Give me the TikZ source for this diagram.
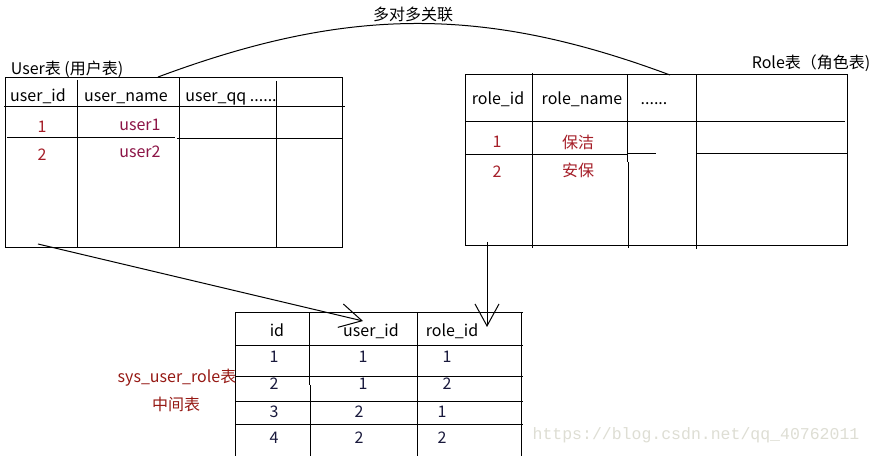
\documentclass[tikz,border=0pt]{standalone}
\usepackage{fontspec}
\setmainfont{Noto Sans CJK SC}
\newfontfamily\urlfont{Liberation Mono}
\usepackage{xcolor}
\usetikzlibrary{arrows.meta}
\definecolor{rowred}{RGB}{165,30,40}
\definecolor{namered}{RGB}{140,20,70}
\definecolor{labelred}{RGB}{150,25,20}
\definecolor{cellink}{RGB}{25,25,60}
\definecolor{markgray}{RGB}{222,222,212}

\begin{document}
\begin{tikzpicture}[x = 1pt, y = -1pt, line width = 1pt,
		cell/.style = {font = \fontsize{16}{18}\selectfont, inner sep = 0pt, text height = 1.05em, text depth = 0.1em},
		barb/.style = {-{Straight Barb[length = 22pt, width = 24pt]}}]
	\def\userTop{78};
	\def\userBottom{248};
	\def\roleTop{75};
	\def\roleBottom{246};
	\def\linkTop{313};
	\def\linkBottom{456};

	\fill [white] (0,0) rectangle (873,456);

	\begin{scope}
		\draw (5,\userTop) rectangle (342,\userBottom);
		\draw (4,107) -- (345,107);
		\draw (7,138) -- (175,138);
		\draw (177,139) -- (342,139);
		\draw (77,80) -- (77,\userBottom);
		\draw (179,\userTop) -- (179,\userBottom);
		\draw (276,81) -- (276,\userBottom);
		\node [cell] (usertitle) at (67,70) {User表 (用户表)};
		\node [cell] (uid) at (38,97) {user\_id};
		\node [cell] (uname) at (126,97) {user\_name};
		\node [cell] (uqq) at (231,97) {user\_qq ......};
		\node [cell, rowred] (u1id) at (42,128) {1};
		\node [cell, namered] (u1name) at (140,126) {user1};
		\node [cell, rowred] (u2id) at (42,156) {2};
		\node [cell, namered] (u2name) at (140,153) {user2};
	\end{scope}

	\begin{scope}
		\draw (465,\roleTop) rectangle (847,\roleBottom);
		\draw (465,122) -- (845,122);
		\draw (465,155) -- (627,155);
		\draw (627,154) -- (656,154);
		\draw (696,154) -- (847,154);
		\draw (532,73) -- (532,248);
		\draw (627,\roleTop) -- (627,162);
		\draw (628,162) -- (628,248);
		\draw (696,\roleTop) -- (696,249);
		\node [cell] (roletitle) at (811,64) {Role表（角色表)};
		\node [cell] (rid) at (498,100) {role\_id};
		\node [cell] (rname) at (582,100) {role\_name};
		\node [cell] (rmore) at (654,100) {......};
		\node [cell, rowred] (r1id) at (497,143) {1};
		\node [cell, rowred] (r1name) at (578,144) {保洁};
		\node [cell, rowred] (r2id) at (497,173) {2};
		\node [cell, rowred] (r2name) at (578,172) {安保};
	\end{scope}

	\begin{scope}
		\draw (235,\linkTop) -- (523,\linkTop);
		\draw (235,\linkTop) -- (235,\linkBottom);
		\draw (309,\linkTop) -- (309,385);
		\draw (310,385) -- (310,\linkBottom);
		\draw (417,\linkTop) -- (417,\linkBottom);
		\draw (521,\linkTop) -- (521,\linkBottom);
		\foreach \y in {346,377,402,425}
			\draw (235,\y) -- (523,\y);
		\node [cell] (linkid) at (277,332) {id};
		\node [cell] (linkuser) at (371,332) {user\_id};
		\node [cell] (linkrole) at (452,332) {role\_id};
		\foreach \n/\y/\u/\ux/\r/\rx in {1/358/1/363/1/447, 2/385/1/363/2/447, 3/413/2/359/1/442, 4/439/2/359/2/442} {
			\node [cell, cellink] (linkid\n) at (274,\y) {\n};
			\node [cell, cellink] (linkuser\n) at (\ux,\y) {\u};
			\node [cell, cellink] (linkrole\n) at (\rx,\y) {\r};
		}
		\node [cell, labelred] (linkname) at (177,378) {sys\_user\_role表};
		\node [cell, labelred] (linknote) at (176,406) {中间表};
	\end{scope}

	\begin{scope}
		\coordinate (userlink) at (158,77);
		\coordinate (rolelink) at (670,75);
		\draw (userlink) .. controls +(188,-70) and +(-188,-70) .. (rolelink);
		\node [cell] (manytomany) at (413,16) {多对多关联};
		\coordinate (userfk) at (38,244);
		\coordinate (useridtip) at (363,321);
		\draw [barb] (userfk) -- (useridtip);
		\coordinate (rolefk) at (487,242);
		\coordinate (roleidtip) at (487,327);
		\draw [barb] (rolefk) -- (roleidtip);
	\end{scope}

	\node [font = \urlfont\fontsize{16.5}{18}\selectfont, text = markgray, inner sep = 0pt] (watermark) at (696,435) {https://blog.csdn.net/qq\_40762011};
\end{tikzpicture}
\end{document}
